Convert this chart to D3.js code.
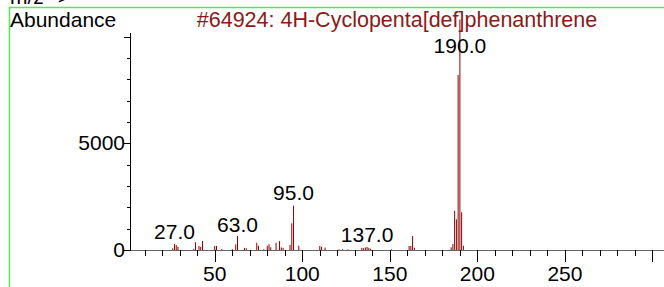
<!DOCTYPE html>
<html><head><meta charset="utf-8">
<script src="https://cdn.jsdelivr.net/npm/d3@7"></script>
<style>body{margin:0;background:#fff;}svg{display:block;font-family:"Liberation Sans",Arial,sans-serif;}</style>
</head><body>
<script>
const title = "#64924: 4H-Cyclopenta[def]phenanthrene";
const mz = [26,27,28,29,38,39,41,42,43,50,51,54,60,62,63,67,68,74,75,78,80,81,82,85,87,88,89,93,94,95,98,110,111,113,121,123,126,134,135,136,137,138,139,151,161,162,163,164,185,186,187,188,189,190,191,192];
const abundance = [80,280,230,150,50,360,190,150,420,190,190,50,40,265,655,100,80,340,200,40,200,265,130,340,420,120,100,235,1250,2080,200,190,150,115,30,40,30,100,80,120,140,100,60,30,190,190,650,110,125,280,1840,1440,8200,10800,1770,200];
const peakLabels = [27,63,95,137,190];
const xTickValues = [50,100,150,200,250,300];
const xTickLabels = ["50","100","150","200","250",""];
const yTickValues = [0,5000];
const yTickLabels = ["0","5000"];

const W = 664, H = 287;
const svg = d3.select("body").append("svg").attr("width", W).attr("height", H);

const x = d3.scaleLinear().domain([1.6, 306]).range([130, 663]);
const y = d3.scaleLinear().domain([0, 10170]).range([250, 33]);
const FS = 21;

// frame
svg.append("line").attr("x1",9.5).attr("x2",W).attr("y1",7.5).attr("y2",7.5).attr("stroke","#55e655").attr("stroke-width",1.5);
svg.append("line").attr("x1",9.5).attr("x2",9.5).attr("y1",7).attr("y2",H).attr("stroke","#55e655").attr("stroke-width",1.5);
svg.append("text").attr("x",10).attr("y",4).attr("font-size",FS).attr("fill","#000").text("m/z-->");

// peaks
const data = mz.map((m,i)=>({m, v: abundance[i]}));
svg.append("g").selectAll("line").data(data).join("line")
  .attr("x1", d=>x(d.m)).attr("x2", d=>x(d.m))
  .attr("y1", y(0)).attr("y2", d=>y(d.v))
  .attr("stroke", "#8b0000").attr("stroke-width", 1);

// x axis
const xAxisG = svg.append("g");
xAxisG.append("line").attr("x1",130).attr("x2",W).attr("y1",250.5).attr("y2",250.5).attr("stroke","#666").attr("stroke-width",1);
const minor = d3.range(10, 301, 10);
xAxisG.selectAll("line.t").data(minor).join("line").attr("class","t")
  .attr("x1", d=>Math.round(x(d))+0.5).attr("x2", d=>Math.round(x(d))+0.5)
  .attr("y1", 250).attr("y2", d=> d%50===0 ? 262 : 256)
  .attr("stroke","#000").attr("stroke-width",1);
xAxisG.selectAll("text").data(xTickValues).join("text")
  .attr("x", d=>x(d)).attr("y", 281).attr("text-anchor","middle").attr("font-size",FS)
  .text((d,i)=>xTickLabels[i]);

// y axis
const yAxisG = svg.append("g");
yAxisG.append("line").attr("x1",130.5).attr("x2",130.5).attr("y1",33).attr("y2",251).attr("stroke","#000").attr("stroke-width",1);
yAxisG.selectAll("line.t").data(d3.range(0, 10001, 1000)).join("line").attr("class","t")
  .attr("x1", d=> d%5000===0 ? 124 : 127).attr("x2", 130)
  .attr("y1", d=>Math.round(y(d))+0.5).attr("y2", d=>Math.round(y(d))+0.5)
  .attr("stroke","#000").attr("stroke-width",1);
yAxisG.selectAll("text").data(yTickValues).join("text")
  .attr("x", 125).attr("y", d=>y(d)+7).attr("text-anchor","end").attr("font-size",FS)
  .text((d,i)=>yTickLabels[i]);

// titles
svg.append("text").attr("x",10).attr("y",27).attr("font-size",FS).text("Abundance");
svg.append("text").attr("x",397).attr("y",27).attr("text-anchor","middle").attr("font-size",21.5).attr("fill","#8b1a1a").text(title);

// peak labels
const labY = {27:239, 63:232, 95:200, 137:242, 190:53};
svg.append("g").selectAll("text").data(peakLabels).join("text")
  .attr("x", d=>x(d)).attr("y", d=>labY[d]).attr("text-anchor","middle").attr("font-size",FS)
  .text(d=>d.toFixed(1));
</script>
</body></html>
